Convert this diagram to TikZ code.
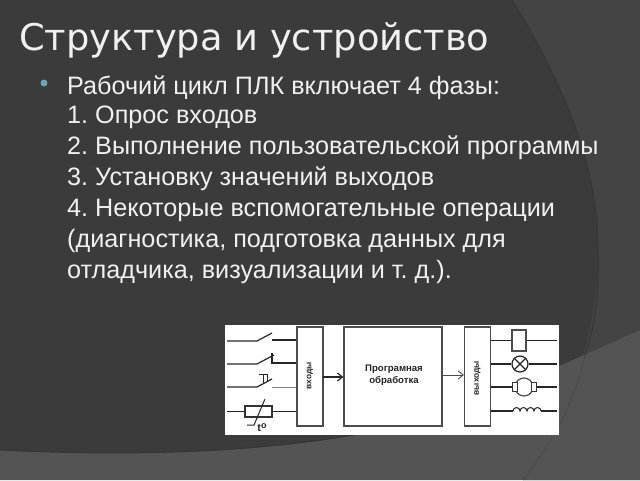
\documentclass[tikz,border=0pt]{standalone}
\usepackage{fontspec}
\setmainfont{Liberation Sans}
\newfontfamily\titlefont{DejaVu Sans}
\usetikzlibrary{arrows.meta,calc}
\definecolor{SlideDark}{HTML}{3B3B3B}
\definecolor{SlideMid}{HTML}{444444}
\definecolor{SlideLight}{HTML}{545454}
\definecolor{SlideEdge}{HTML}{363636}
\definecolor{SlideSeam}{HTML}{4A4A4A}
\definecolor{BulletBlue}{HTML}{6AA5B5}
\definecolor{TextWhite}{HTML}{F0F0F0}
\frenchspacing
\tikzset{
  bodyline/.style={anchor=base west,text=TextWhite,inner sep=0pt,font=\fontsize{25.2}{28}\selectfont},
  block/.style={draw=black!70,line width=1.2pt,fill=white,inner sep=0pt},
  wire/.style={draw=black!85,line width=1.2pt},
  blocktext/.style={font=\fontsize{9.6}{11.5}\selectfont\bfseries,text=black!85,align=center,inner sep=0pt},
  sidetext/.style={font=\fontsize{8.4}{10}\selectfont\bfseries,text=black!85,inner sep=0pt,rotate=90},
}
\begin{document}
\begin{tikzpicture}[x=1pt,y=-1pt]
   \useasboundingbox (0,0) rectangle (640,480);
   % background
   \fill[SlideDark] (0,0) rectangle (640,480);
   \fill[SlideMid] (512,0) .. controls (565,85) and (598,170) .. (598,247)
      .. controls (600,310) and (580,400) .. (523,480) -- (640,480) -- (640,0) -- cycle;
   \fill[SlideLight] (0,450) .. controls (100,455) and (240,456) .. (365,433)
      .. controls (440,418) and (530,380) .. (640,330) -- (640,480) -- (0,480) -- cycle;
   \draw[SlideEdge,line width=1pt] (512,0) .. controls (565,85) and (598,170) .. (598,247)
      .. controls (600,310) and (592,330) .. (585,356);
   \draw[SlideSeam,line width=.8pt] (585,356) .. controls (575,400) and (555,440) .. (523,480);
   \draw[SlideEdge,line width=1pt] (0,450) .. controls (100,455) and (240,456) .. (365,433);

   % title and text
   \node[anchor=base west,text=TextWhite,inner sep=0pt,font=\titlefont\fontsize{36.8}{42}\selectfont] (title) at (19,50) {Структура и устройство};
   \node[circle,fill=BulletBlue,inner sep=0pt,minimum size=7pt] (bullet) at (44,83) {};
   \node[bodyline] (line1) at (67,94) {Рабочий цикл ПЛК включает 4 фазы:};
   \node[bodyline] (line2) at (67,123) {1. Опрос входов};
   \node[bodyline] (line3) at (67,154) {2. Выполнение пользовательской программы};
   \node[bodyline] (line4) at (67,185) {3. Установку значений выходов};
   \node[bodyline] (line5) at (67,216) {4. Некоторые вспомогательные операции};
   \node[bodyline] (line6) at (67,247) {(диагностика, подготовка данных для};
   \node[bodyline] (line7) at (67,278) {отладчика, визуализации и т. д.).};

   % scheme
   \fill[white] (225,325) rectangle (559,435);
   \node[block,minimum width=26pt,minimum height=99pt] (inputs) at (310,376.5) {};
   \node[sidetext] (inputstext) at (310,376) {входы};
   \node[block,minimum width=98pt,minimum height=99pt] (prog) at (393,376.5) {};
   \node[blocktext] (progtext) at (394,375) {Програмная\\обработка};
   \node[block,minimum width=26pt,minimum height=99pt] (outputs) at (477.5,376.5) {};
   \node[sidetext] (outputstext) at (477.5,378) {выходы};

   \coordinate (arrowa) at (323,377);
   \coordinate (arrowb) at (442,375);
   \draw[wire,-{Straight Barb[length=5pt,width=8pt]}] (arrowa) -- (arrowa -| prog.west);
   \draw[draw=black!70,line width=.9pt,-{Straight Barb[length=5pt,width=8pt]}] (arrowb) -- (arrowb -| outputs.west);

   % switches
   \coordinate (swa) at (227,341);
   \coordinate (swb) at (257,341);
   \coordinate (swc) at (272,340);
   \draw[wire] (swa) -- (swb) -- (272,333);
   \draw[wire] (swc) -- (swc -| inputs.west);

   \coordinate (ska) at (227,364);
   \coordinate (skb) at (257,364);
   \coordinate (skc) at (272,363);
   \draw[wire] (ska) -- (skb) -- (274,355);
   \draw[wire] (272,353) -- (skc) -- (skc -| inputs.west);

   \coordinate (pba) at (227,387);
   \coordinate (pbb) at (257,387);
   \coordinate (pbc) at (272,387);
   \draw[wire] (pba) -- (pbb) -- (272,379);
   \draw[draw=black!50,line width=1pt] (pbc) -- (pbc -| inputs.west);
   \draw[wire,line width=1pt] (263,383) -- (263,374.5) (259,374.5) -- (268,374.5) (267,374.5) -- (267,381);

   \node[draw=black!80,line width=1.2pt,minimum width=27pt,minimum height=11pt,inner sep=0pt] (thermo) at (258.5,411.5) {};
   \coordinate (tha) at (227,411.5);
   \draw[wire] (tha) -- (thermo.west);
   \draw[wire] (thermo.east) -- (thermo.east -| inputs.west);
   \draw[wire,line width=1pt] (247,425) -- (254,425) -- (265,399);
   \node[font=\fontsize{11}{12}\selectfont\bfseries,text=black!85,inner sep=0pt] (tdeg) at (262,428) {t\raisebox{3pt}{\fontsize{9}{9}\selectfont o}};

   % loads
   \node[draw=black!70,line width=1.2pt,minimum width=14pt,minimum height=21pt,inner sep=0pt] (relay) at (519,340.5) {};
   \draw[wire] (relay.west -| outputs.east) -- (relay.west);
   \coordinate (rlend) at (557,340.5);
   \draw[wire] (relay.east) -- (rlend);

   \node[circle,draw=black!85,line width=1.2pt,minimum size=16pt,inner sep=0pt] (lamp) at (520,364) {};
   \draw[wire] (lamp.north west) -- (lamp.south east) (lamp.north east) -- (lamp.south west);
   \coordinate (lpend) at (557,364);
   \draw[wire] (lamp.west -| outputs.east) -- (lamp.west);
   \draw[wire] (lamp.east) -- (lpend);

   \node[circle,draw=black!70,line width=1.2pt,minimum size=18pt,inner sep=0pt] (motor) at (524,387) {};
   \node[draw=black!80,fill=white,line width=1pt,minimum width=5pt,minimum height=9pt,inner sep=0pt] (brusha) at (514.5,387) {};
   \node[draw=black!80,fill=white,line width=1pt,minimum width=5pt,minimum height=9pt,inner sep=0pt] (brushb) at (534,387) {};
   \coordinate (mtend) at (557,387);
   \draw[wire] (brusha.west -| outputs.east) -- (brusha.west);
   \draw[wire] (brushb.east) -- (mtend);

   \coordinate (cla) at (513,411);
   \coordinate (clb) at (541,411);
   \coordinate (clend) at (557,411);
   \draw[wire] (cla -| outputs.east) -- (cla);
   \draw[wire,line width=1pt] (cla) arc[start angle=180,end angle=0,radius=3.5pt]
      arc[start angle=180,end angle=0,radius=3.5pt]
      arc[start angle=180,end angle=0,radius=3.5pt]
      arc[start angle=180,end angle=0,radius=3.5pt];
   \draw[wire] (clb) -- (clend);
\end{tikzpicture}
\end{document}
